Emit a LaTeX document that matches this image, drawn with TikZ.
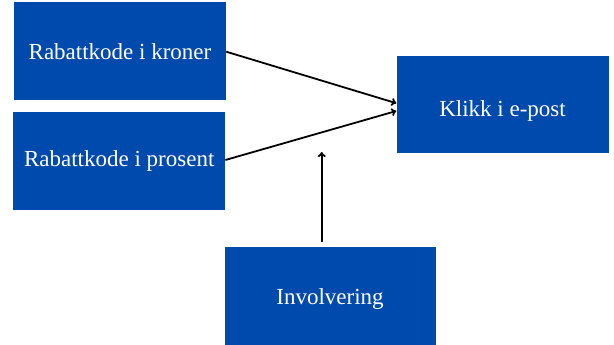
\documentclass[tikz,border=0pt]{standalone}
\usepackage{fontspec}
\setmainfont{Liberation Serif}
\usetikzlibrary{arrows.meta}
\definecolor{boxblue}{RGB}{0,74,173}
\newcommand{\lowertext}[2]{\raisebox{-#1}[\height][\depth]{#2}}
\begin{document}
\begin{tikzpicture}[x=1pt,y=1pt,
  bluebox/.style={fill=boxblue,draw=none,text=white,minimum width=212pt,minimum height=98pt,inner sep=0pt,font=\fontsize{23}{27}\selectfont},
  conn/.style={line width=1.8pt,-{To[length=5pt,width=8pt]}}]
\useasboundingbox (0,0) rectangle (614,345);
\node[bluebox] (kr) at (120,293.8) {Rabattkode i kroner};
\node[bluebox] (pr) at (119.2,183.8) {Rabattkode i prosent};
\node[bluebox,minimum height=97pt] (kl) at (502.5,240.3) {\lowertext{6pt}{Klikk i e-post}};
\node[bluebox,minimum width=211pt] (inv) at (330,49) {\lowertext{3pt}{Involvering}};
\coordinate (vs) at (321.7,103);
\coordinate (ve) at (321.7,193);
\draw[conn] ([yshift=-0.5pt]kr.east) -- ([yshift=1.5pt]kl.west);
\draw[conn] ([yshift=1.2pt]pr.east) -- ([yshift=-6.3pt]kl.west);
\draw[conn] (vs) -- (ve);
\end{tikzpicture}
\end{document}
